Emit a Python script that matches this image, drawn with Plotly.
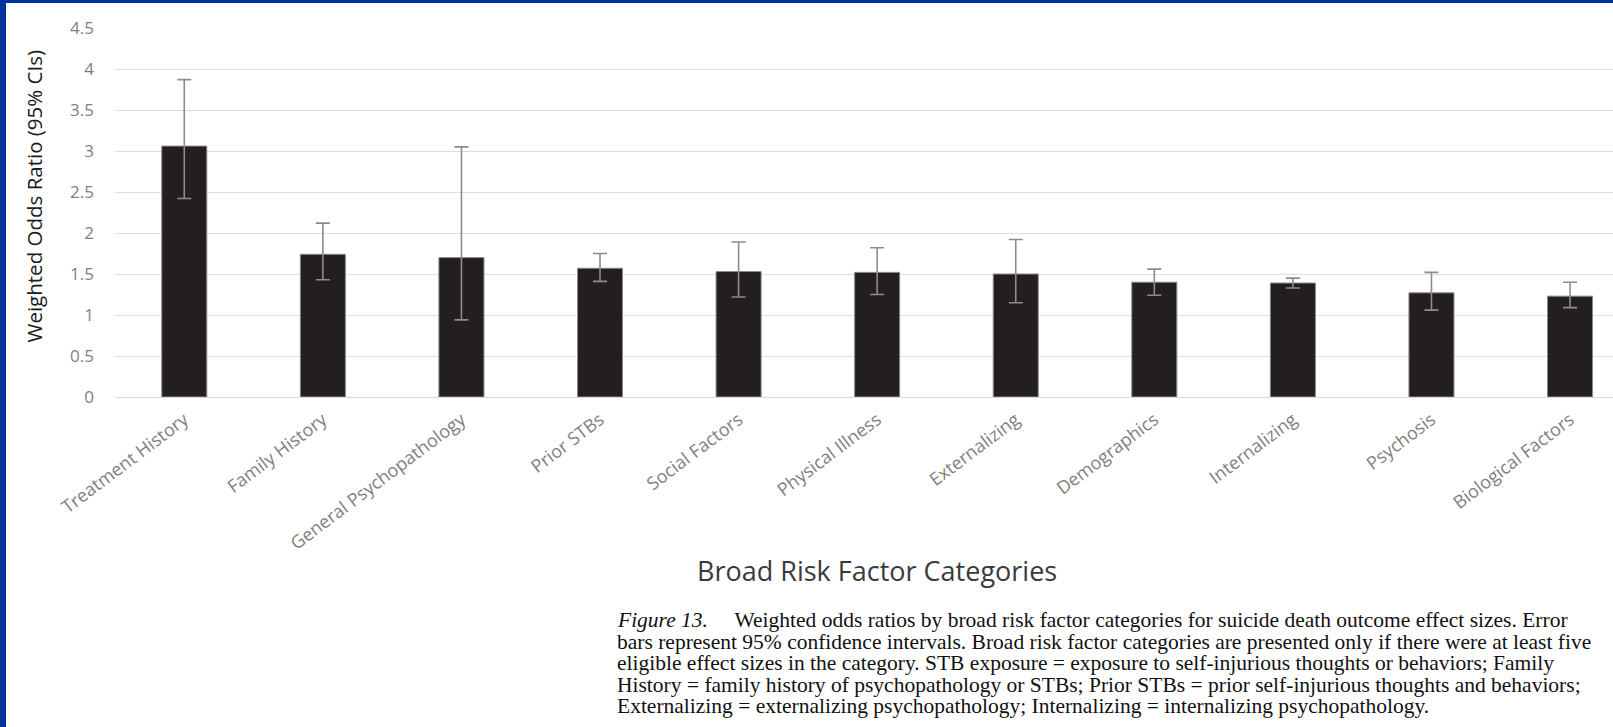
import plotly.graph_objects as go

# Broad risk factor categories and weighted odds ratios with 95% CIs
categories = [
    "Treatment History", "Family History", "General Psychopathology", "Prior STBs",
    "Social Factors", "Physical Illness", "Externalizing", "Demographics",
    "Internalizing", "Psychosis", "Biological Factors",
]
odds_ratio = [3.06, 1.74, 1.70, 1.57, 1.53, 1.52, 1.50, 1.40, 1.39, 1.27, 1.23]
ci_lower = [2.42, 1.43, 0.94, 1.41, 1.22, 1.25, 1.15, 1.24, 1.33, 1.06, 1.09]
ci_upper = [3.87, 2.12, 3.05, 1.75, 1.89, 1.82, 1.92, 1.56, 1.45, 1.52, 1.40]
y_ticks = [0, 0.5, 1, 1.5, 2, 2.5, 3, 3.5, 4, 4.5]
y_tick_text = ["0", "0.5", "1", "1.5", "2", "2.5", "3", "3.5", "4", "4.5"]

caption_lines = [
    "<i>Figure 13.</i>\u00a0\u00a0\u00a0\u00a0 Weighted odds ratios by broad risk factor categories for suicide death outcome effect sizes. Error",
    "bars represent 95% confidence intervals. Broad risk factor categories are presented only if there were at least five",
    "eligible effect sizes in the category. STB exposure = exposure to self-injurious thoughts or behaviors; Family",
    "History = family history of psychopathology or STBs; Prior STBs = prior self-injurious thoughts and behaviors;",
    "Externalizing = externalizing psychopathology; Internalizing = internalizing psychopathology.",
]

W, H = 1613, 727
L, R, T, B = 115, 0, 28, 330
PW, PH = W - L - R, H - T - B


def px_x(x):
    return (x - L) / PW


def px_y(y):
    return (H - B - y) / PH


err_plus = [u - v for u, v in zip(ci_upper, odds_ratio)]
err_minus = [v - l for v, l in zip(odds_ratio, ci_lower)]

fig = go.Figure(
    go.Bar(
        x=categories,
        y=odds_ratio,
        width=0.325,
        marker=dict(color="#231f20", line=dict(color="#8a8a8a", width=1)),
        error_y=dict(
            type="data",
            symmetric=False,
            array=err_plus,
            arrayminus=err_minus,
            color="#8c8c8c",
            thickness=1.6,
            width=7,
        ),
        hoverinfo="x+y",
    )
)

fig.update_layout(
    width=W,
    height=H,
    margin=dict(l=L, r=R, t=T, b=B),
    paper_bgcolor="white",
    plot_bgcolor="white",
    showlegend=False,
    font=dict(family="Open Sans", color="#7f7f7f"),
)

fig.update_xaxes(
    range=[-0.5, 10.31],
    tickangle=-37,
    tickfont=dict(family="Open Sans", size=18, color="#7f7f7f"),
    ticklabelstandoff=8,
    showgrid=False,
    showline=False,
    ticks="",
)

fig.update_yaxes(
    range=[0, 4.5],
    tickvals=y_ticks,
    ticktext=y_tick_text,
    tickfont=dict(family="Open Sans", size=17, color="#7f7f7f"),
    ticklabelstandoff=20,
    showgrid=True,
    gridcolor="#dedede",
    gridwidth=1,
    zeroline=True,
    zerolinecolor="#d9d9d9",
    zerolinewidth=1,
    showline=False,
    ticks="",
)

annotations = [
    dict(
        text="Weighted Odds Ratio (95% CIs)",
        xref="paper", yref="paper",
        x=px_x(33.5), y=px_y(196),
        xanchor="center", yanchor="middle",
        textangle=-90,
        showarrow=False,
        font=dict(family="Open Sans", size=20.5, color="#1a1a1a"),
    ),
    dict(
        text="Broad Risk Factor Categories",
        xref="paper", yref="paper",
        x=px_x(877), y=px_y(570),
        xanchor="center", yanchor="middle",
        showarrow=False,
        font=dict(family="Open Sans", size=27, color="#3a3a3a"),
    ),
]

line_y = [620, 642, 663, 685, 706]
for text, ly in zip(caption_lines, line_y):
    annotations.append(
        dict(
            text=text,
            xref="paper", yref="paper",
            x=px_x(615), y=px_y(ly),
            xanchor="left", yanchor="middle",
            showarrow=False,
            font=dict(family="Liberation Serif", size=21.5, color="#111111"),
        )
    )
fig.update_layout(annotations=annotations)

# Blue frame on the left and top edges of the page
blue = "#003399"
fig.update_layout(
    shapes=[
        dict(type="rect", xref="paper", yref="paper",
             x0=px_x(0), x1=px_x(6), y0=px_y(H), y1=px_y(0),
             fillcolor=blue, line=dict(width=0), layer="above"),
        dict(type="rect", xref="paper", yref="paper",
             x0=px_x(0), x1=px_x(W), y0=px_y(3), y1=px_y(0),
             fillcolor=blue, line=dict(width=0), layer="above"),
    ]
)

fig.write_html("out.html")
